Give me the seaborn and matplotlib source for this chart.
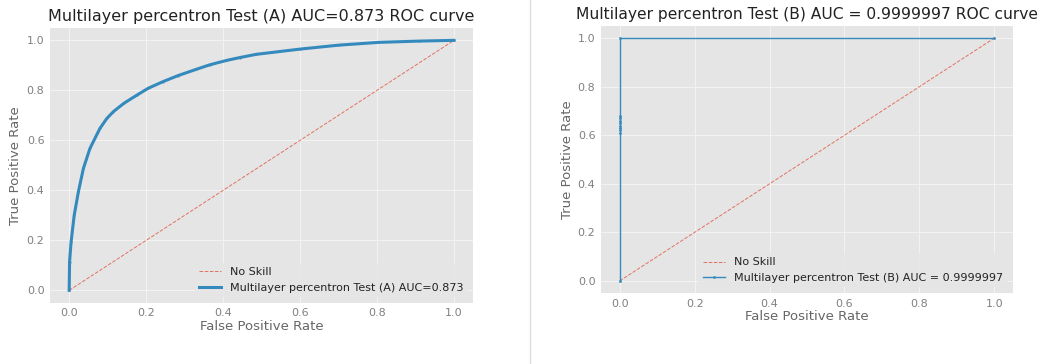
import matplotlib
matplotlib.use("Agg")
import matplotlib.pyplot as plt
from matplotlib.lines import Line2D
import seaborn as sns

# ROC points, model A
fpr_a = [0.0, 0.001, 0.005, 0.013, 0.024, 0.037, 0.054, 0.08, 0.098, 0.115,
         0.142, 0.175, 0.205, 0.244, 0.283, 0.33, 0.365, 0.41, 0.443, 0.486,
         0.6, 0.702, 0.806, 0.909, 1.0]
tpr_a = [0.0, 0.115, 0.195, 0.30, 0.395, 0.488, 0.568, 0.648, 0.688, 0.715,
         0.748, 0.78, 0.808, 0.835, 0.859, 0.884, 0.902, 0.92, 0.931, 0.944,
         0.965, 0.981, 0.992, 0.997, 1.0]

# ROC points, model B
fpr_b = [0.0, 0.0, 0.0, 0.0, 0.0, 0.0, 0.0, 0.0, 0.0, 0.0, 1.0]
tpr_b = [0.0, 0.61, 0.62, 0.63, 0.64, 0.65, 0.66, 0.67, 0.68, 1.0, 1.0]

# chance diagonal
skill_x = [0.0, 1.0]
skill_y = [0.0, 1.0]

titles = ["Multilayer percentron Test (A) AUC=0.873 ROC curve",
          "Multilayer percentron Test (B) AUC = 0.9999997 ROC curve"]
labels = ["Multilayer percentron Test (A) AUC=0.873",
          "Multilayer percentron Test (B) AUC = 0.9999997"]

plt.style.use("ggplot")
sns.set_style({"axes.facecolor": "#E5E5E5", "grid.color": "#F3F3F3"})
plt.rcParams["font.family"] = ["DejaVu Sans"]
plt.rcParams["grid.linewidth"] = 0.7

fig = plt.figure(figsize=(10.45, 3.64), dpi=100)
ax_a = fig.add_axes([0.0478, 0.168, 0.405, 0.7555])
ax_b = fig.add_axes([0.5751, 0.195, 0.3943, 0.7335])

red = "#E24A33"
blue = "#348ABD"

panels = [
    (ax_a, fpr_a, tpr_a, titles[0], labels[0], 2.2, 3, 11.5),
    (ax_b, fpr_b, tpr_b, titles[1], labels[1], 1.0, 4, 11.2),
]
for ax, fx, ty, title, lab, lw, ms, tfs in panels:
    sns.lineplot(x=skill_x, y=skill_y, ax=ax, color=red, linestyle="--",
                 linewidth=0.7, alpha=0.75, label="No Skill")
    sns.lineplot(x=fx, y=ty, ax=ax, color=blue, marker=".", markersize=ms,
                 markeredgewidth=0, linewidth=lw, sort=False, estimator=None,
                 label=lab)
    ax.set_xlim(-0.05, 1.05)
    ax.set_ylim(-0.05, 1.05)
    ax.set_xticks([0.0, 0.2, 0.4, 0.6, 0.8, 1.0])
    ax.set_yticks([0.0, 0.2, 0.4, 0.6, 0.8, 1.0])
    ax.set_title(title, fontsize=tfs, color="#222222", pad=5)
    ax.set_xlabel("False Positive Rate", fontsize=9.5, color="#666666", labelpad=1)
    ax.set_ylabel("True Positive Rate", fontsize=9.5, color="#666666", labelpad=3)
    ax.tick_params(axis="both", length=0, labelsize=8, colors="#808080", pad=4)
    leg = ax.legend(loc="lower right", fontsize=8, frameon=True,
                    facecolor="#E5E5E5", edgecolor="none", framealpha=0.8)
    for t in leg.get_texts():
        t.set_color("#222222")
    for s in ax.spines.values():
        s.set_visible(False)

# thin separator between the two panels
fig.add_artist(Line2D([530 / 1045, 530 / 1045], [0.0, 1.0],
                      transform=fig.transFigure, color="#DDDDDD", linewidth=1))

fig.savefig("out.png", dpi=100, facecolor="white")
